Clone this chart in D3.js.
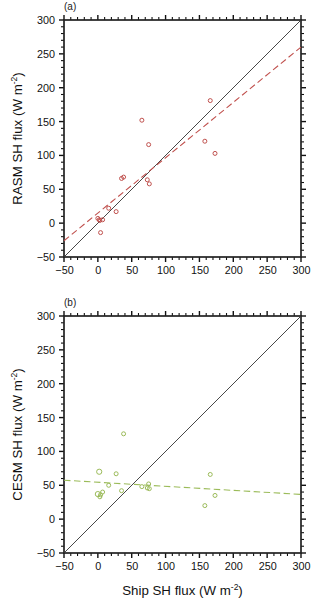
<!DOCTYPE html>
<html>
<head>
<meta charset="utf-8">
<script src="https://cdn.jsdelivr.net/npm/d3@7"></script>
<style>
  body { margin: 0; background: #fff; }
</style>
</head>
<body>
<div id="chart"></div>
<script>
// ship observations (x), shared by both panels
const shipSH = [0, 2, 3, 7, 4, 16, 27, 35, 38, 65, 75, 73, 76, 158, 166, 173];
const rasmSH = [7, 5, 4, 5, -14, 22, 17, 66, 68, 152, 116, 64, 58, 121, 181, 103];
const cesmSH = [37, 70, 33, 40, 36, 50, 67, 42, 126, 48, 52, 46, 45, 20, 66, 35];
const cesmSize = [2.6, 2.6, 2, 2, 2, 2, 2, 2, 2, 2, 2, 2, 2, 2, 2, 2];

// dashed fit lines: [x, y] at both ends
const rasmFit = [[-50, -26], [300, 260]];
const cesmFit = [[-50, 57.5], [300, 36.5]];

const ticks = [-50, 0, 50, 100, 150, 200, 250, 300];
const minorTicks = d3.range(-50, 301, 10);

const W = 320, H = 599;
const left = 64, size = 237;

const svg = d3.select("#chart")
  .append("svg")
  .attr("width", W)
  .attr("height", H)
  .style("font-family", "'Liberation Sans', Arial, sans-serif");

function panel(top, ys, color, fit, tag, ylab, sizes, showXTitle) {
  const x = d3.scaleLinear().domain([-50, 300]).range([0, size]);
  const y = d3.scaleLinear().domain([-50, 300]).range([size, 0]);

  const g = svg.append("g")
    .attr("transform", `translate(${left},${top})`);

  // tick marks on all four sides, pointing out
  const tickGroup = g.append("g").attr("stroke", "#111");
  const len = v => (ticks.includes(v) ? 5 : 3);
  const sw = v => (ticks.includes(v) ? 1.4 : 1.1);

  // bottom and top
  [[size, 1], [0, -1]].forEach(([edge, dir]) => {
    tickGroup.selectAll(null)
      .data(minorTicks)
      .enter().append("line")
      .attr("x1", d => x(d)).attr("x2", d => x(d))
      .attr("y1", edge)
      .attr("y2", d => edge + dir * len(d))
      .attr("stroke-width", sw);
  });
  // left and right
  [[0, -1], [size, 1]].forEach(([edge, dir]) => {
    tickGroup.selectAll(null)
      .data(minorTicks)
      .enter().append("line")
      .attr("y1", d => y(d)).attr("y2", d => y(d))
      .attr("x1", edge)
      .attr("x2", d => edge + dir * len(d))
      .attr("stroke-width", sw);
  });

  // tick labels
  const xa = g.append("g")
    .attr("transform", `translate(0,${size})`)
    .call(d3.axisBottom(x).tickValues(ticks).tickSize(0).tickPadding(9));
  const ya = g.append("g")
    .call(d3.axisLeft(y).tickValues(ticks).tickSize(0).tickPadding(9));
  [xa, ya].forEach(a => {
    a.select(".domain").remove();
    a.selectAll("text")
      .style("font-size", "10.8px")
      .style("font-family", "'Liberation Sans', Arial, sans-serif")
      .attr("fill", "#111");
  });

  g.append("rect")
    .attr("width", size)
    .attr("height", size)
    .attr("fill", "none")
    .attr("stroke", "#222")
    .attr("stroke-width", 1.7);

  // 1:1 line
  g.append("line")
    .attr("x1", x(-50)).attr("y1", y(-50))
    .attr("x2", x(300)).attr("y2", y(300))
    .attr("stroke", "#333")
    .attr("stroke-width", 0.9);

  // fit line
  g.append("path")
    .attr("d", d3.line().x(d => x(d[0])).y(d => y(d[1]))(fit))
    .attr("fill", "none")
    .attr("stroke", color)
    .attr("stroke-width", 1.1)
    .attr("stroke-dasharray", "6.5,3.5");

  g.selectAll("circle.pt")
    .data(shipSH.map((d, i) => ({ x: d, y: ys[i], r: sizes ? sizes[i] : 2 })))
    .enter()
    .append("circle")
    .attr("class", "pt")
    .attr("cx", d => x(d.x))
    .attr("cy", d => y(d.y))
    .attr("r", d => d.r)
    .attr("fill", "none")
    .attr("stroke", color)
    .attr("stroke-width", 1);

  g.append("text")
    .attr("x", 0)
    .attr("y", -10)
    .style("font-size", "10px")
    .attr("fill", "#222")
    .text(tag);

  const yt = svg.append("text")
    .attr("transform", `translate(22,${top + size / 2}) rotate(-90)`)
    .attr("text-anchor", "middle")
    .style("font-size", "13.3px")
    .attr("fill", "#111");
  yt.append("tspan").text(ylab + " (W m");
  yt.append("tspan").attr("dy", -5.5).style("font-size", "8.5px").text("-2");
  yt.append("tspan").attr("dy", 5.5).text(")");

  if (showXTitle) {
    const xt = svg.append("text")
      .attr("x", left + size / 2)
      .attr("y", top + size + 42)
      .attr("text-anchor", "middle")
      .style("font-size", "13.3px")
      .attr("fill", "#111");
    xt.append("tspan").text("Ship SH flux (W m");
    xt.append("tspan").attr("dy", -5.5).style("font-size", "8.5px").text("-2");
    xt.append("tspan").attr("dy", 5.5).text(")");
  }
}

panel(20, rasmSH, "#c0504d", rasmFit, "(a)", "RASM SH flux", null, false);
panel(316, cesmSH, "#9bbb59", cesmFit, "(b)", "CESM SH flux", cesmSize, true);
</script>
</body>
</html>
